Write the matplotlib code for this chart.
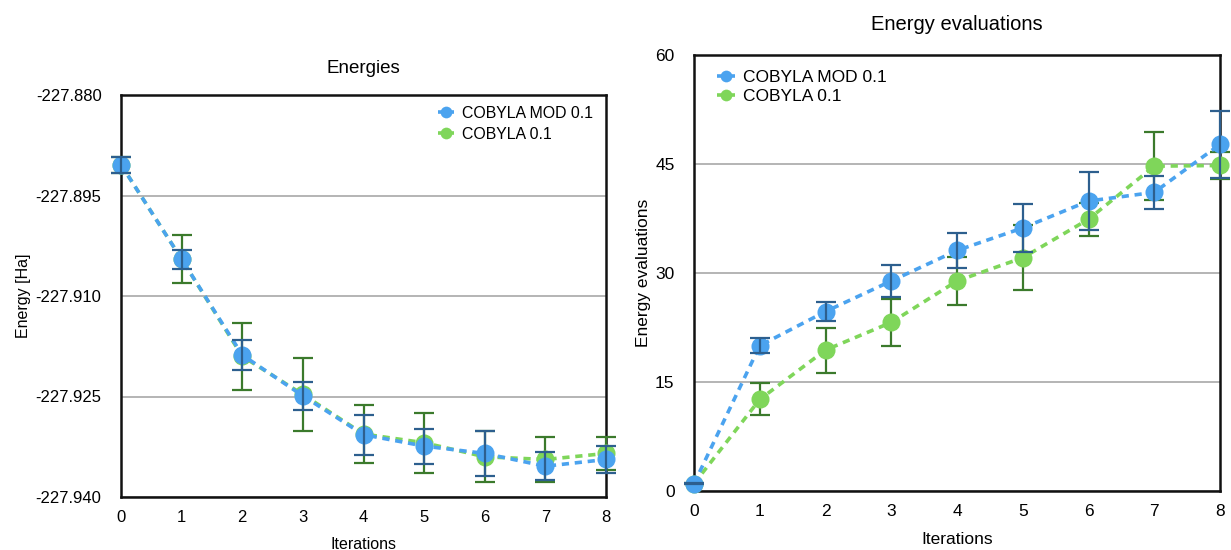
import matplotlib
matplotlib.use("Agg")
import matplotlib.pyplot as plt
import numpy as np

plt.rcParams['font.family'] = ['Liberation Sans', 'DejaVu Sans']

iterations = [0, 1, 2, 3, 4, 5, 6, 7, 8]

# Energies (Ha)
energy_mod = [-227.8904, -227.9045, -227.9188, -227.9249, -227.9307, -227.9324, -227.9335, -227.9354, -227.9344]
energy_mod_err = [0.0012, 0.0014, 0.0022, 0.0021, 0.0030, 0.0026, 0.0034, 0.0021, 0.0020]
energy_cob = [-227.8904, -227.9045, -227.9190, -227.9247, -227.9306, -227.9319, -227.9340, -227.9344, -227.9335]
energy_cob_err = [0.0012, 0.0036, 0.0050, 0.0055, 0.0043, 0.0045, 0.0038, 0.0034, 0.0024]

# Energy evaluations
evals_mod = [1.0, 20.0, 24.7, 28.9, 33.1, 36.2, 39.9, 41.1, 47.7]
evals_mod_err = [0.1, 1.0, 1.3, 2.2, 2.4, 3.3, 4.0, 2.3, 4.6]
evals_cob = [1.0, 12.6, 19.4, 23.2, 28.9, 32.1, 37.4, 44.7, 44.8]
evals_cob_err = [0.1, 2.2, 3.1, 3.2, 3.3, 4.5, 2.3, 4.7, 1.8]

labels = ["COBYLA MOD 0.1", "COBYLA 0.1"]

blue = "#4ba3ef"
green = "#7fd65a"
dblue = "#2d5f8e"
dgreen = "#3b7a2c"

fig = plt.figure(figsize=(12.31, 5.5), dpi=100)
W, H = 1231, 550
ax1 = fig.add_axes([121 / W, 1 - 497 / H, (606 - 121) / W, (497 - 95) / H])
ax2 = fig.add_axes([694 / W, 1 - 491 / H, (1220 - 694) / W, (491 - 55) / H])


def draw(ax, y1, e1, y2, e2, ecol1, ecol2, fs):
    ax.errorbar(iterations, y2, yerr=e2, fmt='none', ecolor=ecol2, elinewidth=1.6,
                capsize=7, capthick=1.6, zorder=3, clip_on=False)
    ax.errorbar(iterations, y1, yerr=e1, fmt='none', ecolor=ecol1, elinewidth=1.6,
                capsize=7, capthick=1.6, zorder=5, clip_on=False)
    l2, = ax.plot(iterations, y2, linestyle=(0, (2, 1.6)), color=green, lw=2.6,
                  marker='o', markersize=13, markeredgewidth=0, zorder=4, clip_on=False,
                  label=labels[1])
    l1, = ax.plot(iterations, y1, linestyle=(0, (2, 1.6)), color=blue, lw=2.6,
                  marker='o', markersize=13, markeredgewidth=0, zorder=4.5, clip_on=False,
                  label=labels[0])
    ax.set_xlim(0, 8)
    ax.set_xticks(iterations)
    ax.grid(axis='y', color='#a8a8a8', lw=1.2)
    ax.set_axisbelow(True)
    for s in ax.spines.values():
        s.set_linewidth(1.8)
        s.set_color('#111111')
    ax.tick_params(axis='x', length=0, labelsize=fs, pad=9)
    ax.tick_params(axis='y', length=0, labelsize=fs, pad=14)
    return l1, l2


l1, l2 = draw(ax1, energy_mod, energy_mod_err, energy_cob, energy_cob_err, dblue, dgreen, 12)
ax1.set_ylim(-227.940, -227.880)
ax1.set_yticks([-227.940, -227.925, -227.910, -227.895, -227.880])
ax1.set_yticklabels(["-227.940", "-227.925", "-227.910", "-227.895", "-227.880"])
ax1.set_title("Energies", fontsize=13.5, pad=16)
ax1.set_xlabel("Iterations", fontsize=11.5, labelpad=9)
ax1.set_ylabel("Energy [Ha]", fontsize=11.5, labelpad=3)
ax1.legend(handles=[l1, l2], loc='upper left', frameon=False, fontsize=11.4,
           handlelength=1.0, handletextpad=0.5, borderaxespad=0, borderpad=0,
           labelspacing=0.36, markerscale=0.65, bbox_to_anchor=(0.654, 0.973))

m1, m2 = draw(ax2, evals_mod, evals_mod_err, evals_cob, evals_cob_err, dblue, dgreen, 12.5)
ax2.set_ylim(0, 60)
ax2.set_yticks([0, 15, 30, 45, 60])
ax2.set_title("Energy evaluations", fontsize=14.5, pad=18)
ax2.set_xlabel("Iterations", fontsize=12.5, labelpad=10)
ax2.set_ylabel("Energy evaluations", fontsize=12.5, labelpad=3)
ax2.legend(handles=[m1, m2], loc='upper left', frameon=False, fontsize=12.5,
           handlelength=1.0, handletextpad=0.5, borderaxespad=0, borderpad=0,
           labelspacing=0.2, markerscale=0.65, bbox_to_anchor=(0.044, 0.965))

fig.savefig("out.png", dpi=100)
